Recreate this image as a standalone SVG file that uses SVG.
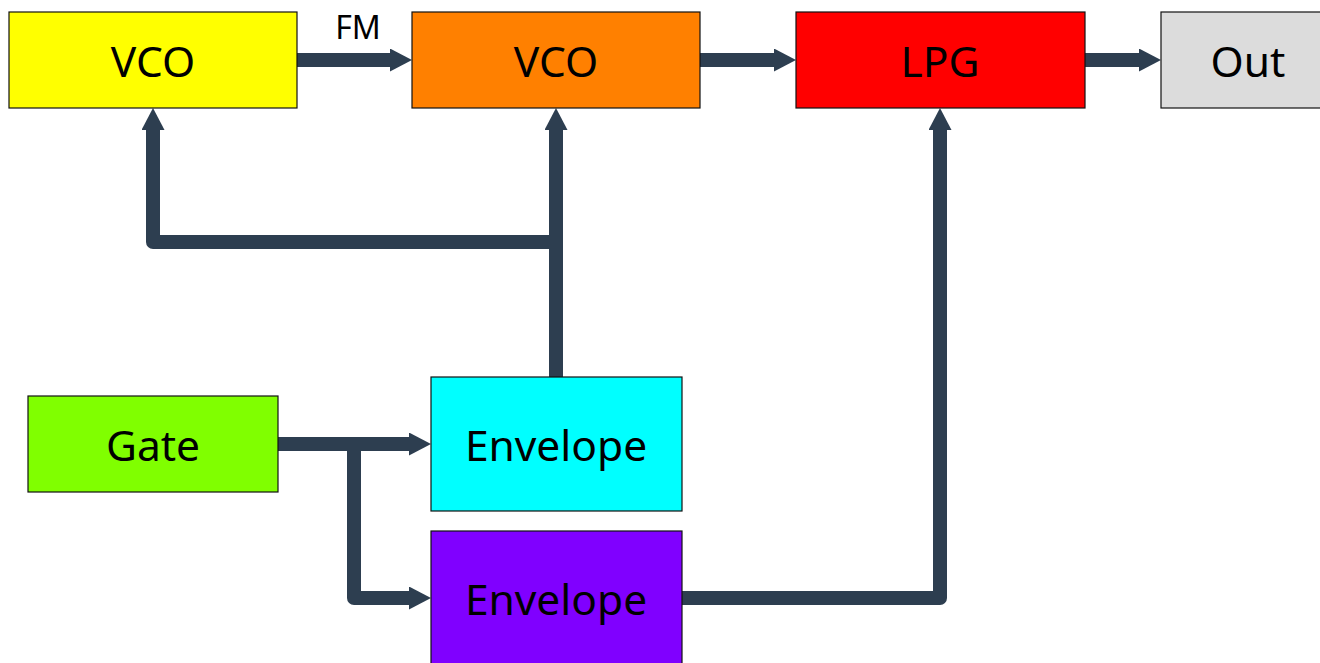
<svg xmlns="http://www.w3.org/2000/svg" width="1320" height="663" viewBox="0 0 1320 663">
  <style>
    .box { stroke: #111111; stroke-width: 1.2; }
    .label { font-family: "Noto Sans", "Open Sans", sans-serif; font-size: 42.5px; fill: #000000; text-anchor: middle; }
    .edge-label { font-family: "Noto Sans", "Open Sans", sans-serif; font-size: 32px; fill: #000000; text-anchor: middle; }
    .wire { fill: none; stroke: #2d3e50; stroke-width: 14; stroke-linejoin: round; stroke-linecap: butt; }
    .arrow { marker-end: url(#head); }
  </style>
  <defs>
    <marker id="head" markerUnits="userSpaceOnUse" viewBox="0 0 22 23" refX="0" refY="11.5" markerWidth="22" markerHeight="23" orient="auto">
      <path d="M0,0 L22,11.5 L0,23 Z" fill="#2d3e50"/>
    </marker>
  </defs>
  <rect width="1320" height="663" fill="#ffffff"/>

  <g id="connectors">
    <path class="wire arrow" d="M297,60 H390"/>
    <path class="wire arrow" d="M700,60 H774"/>
    <path class="wire arrow" d="M1085,60 H1139"/>
    <path class="wire arrow" d="M556,377 V130"/>
    <path class="wire arrow" d="M556,242 H153 V130"/>
    <path class="wire arrow" d="M278,444 H409"/>
    <path class="wire arrow" d="M354,444 V598 H409"/>
    <path class="wire arrow" d="M682,598 H940 V130"/>
    <text class="edge-label" x="358" y="39">FM</text>
  </g>

  <g id="vco1">
    <rect class="box" x="9" y="12" width="288" height="96" fill="#ffff00"/>
    <text class="label" x="153" y="77">VCO</text>
  </g>
  <g id="vco2">
    <rect class="box" x="412" y="12" width="288" height="96" fill="#ff8000"/>
    <text class="label" x="556" y="77">VCO</text>
  </g>
  <g id="lpg">
    <rect class="box" x="796" y="12" width="289" height="96" fill="#ff0000"/>
    <text class="label" x="940" y="77">LPG</text>
  </g>
  <g id="out">
    <rect class="box" x="1161" y="12" width="180" height="96" fill="#dcdcdc"/>
    <text class="label" x="1248" y="77">Out</text>
  </g>
  <g id="gate">
    <rect class="box" x="28" y="396" width="250" height="96" fill="#80ff00"/>
    <text class="label" x="153" y="461">Gate</text>
  </g>
  <g id="envelope-pitch">
    <rect class="box" x="431" y="377" width="251" height="134" fill="#00ffff"/>
    <text class="label" x="556" y="461">Envelope</text>
  </g>
  <g id="envelope-lpg">
    <rect class="box" x="431" y="531" width="251" height="140" fill="#8000ff"/>
    <text class="label" x="556" y="615">Envelope</text>
  </g>
</svg>
